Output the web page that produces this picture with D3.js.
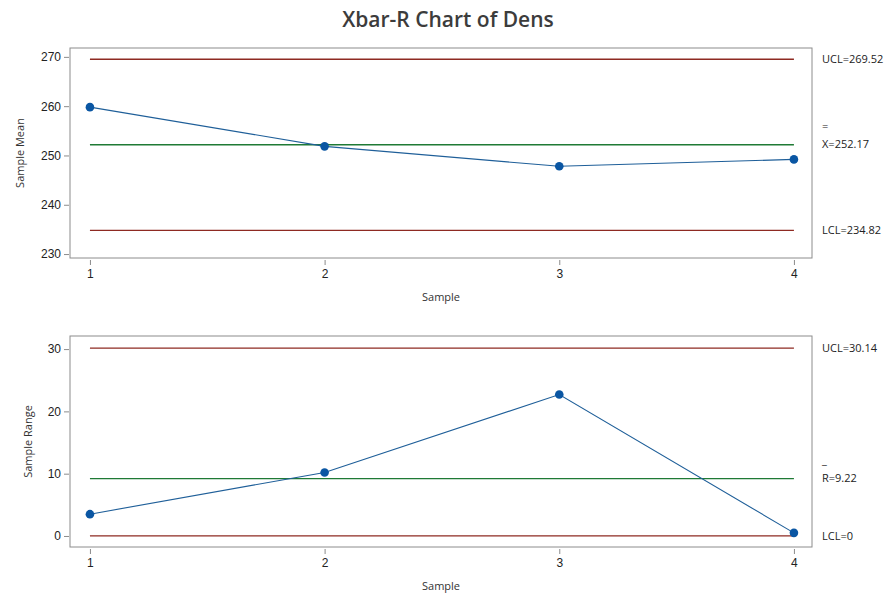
<!DOCTYPE html>
<html>
<head>
<meta charset="utf-8">
<style>
  body { margin: 0; background: #fff; }
  svg { display: block; font-family: "Open Sans", "Noto Sans", sans-serif; }
</style>
<script src="https://d3js.org/d3.v7.min.js"></script>
</head>
<body>
<svg width="894" height="597"></svg>
<script>
var samples = [1, 2, 3, 4];
var sampleMeans = [259.8, 251.85, 247.8, 249.2];
var sampleRanges = [3.5, 10.2, 22.7, 0.5];
var meanLimits = { ucl: 269.52, center: 252.17, lcl: 234.82 };
var rangeLimits = { ucl: 30.14, center: 9.22, lcl: 0 };
var meanTicks = [230, 240, 250, 260, 270];
var rangeTicks = [0, 10, 20, 30];

var svg = d3.select("svg");

svg.append("text")
    .attr("x", 448).attr("y", 27)
    .attr("text-anchor", "middle")
    .attr("font-size", 21).attr("font-weight", 600)
    .attr("fill", "#3c3c3c")
    .text("Xbar-R Chart of Dens");

function panel(opts) {
  var left = 70, right = 812, top = opts.top, bottom = opts.bottom;
  var g = svg.append("g");

  var x = d3.scaleLinear().domain([0.915, 4.077]).range([left, right]);
  var y = d3.scaleLinear().domain(opts.domain).range([bottom, top]);

  g.append("rect")
      .attr("x", left).attr("y", top)
      .attr("width", right - left).attr("height", bottom - top)
      .attr("fill", "none").attr("stroke", "#8c8c8c");

  var yAxis = g.append("g")
      .attr("transform", "translate(" + (left - 1) + ",0)")
      .call(d3.axisLeft(y).tickValues(opts.ticks).tickSize(5).tickPadding(3));
  yAxis.select(".domain").remove();
  yAxis.selectAll("line").attr("stroke", "#8c8c8c");
  yAxis.selectAll("text").attr("font-size", 12).attr("fill", "#222").attr("font-family", null);

  var xAxis = g.append("g")
      .attr("transform", "translate(0," + (bottom + 2) + ")")
      .call(d3.axisBottom(x).tickValues(samples).tickSize(5).tickPadding(4).tickFormat(d3.format("d")));
  xAxis.select(".domain").remove();
  xAxis.selectAll("line").attr("stroke", "#8c8c8c");
  xAxis.selectAll("text").attr("font-size", 12).attr("fill", "#222").attr("font-family", null);

  g.append("text")
      .attr("x", (left + right) / 2).attr("y", bottom + 43)
      .attr("text-anchor", "middle").attr("font-size", 11).attr("fill", "#333")
      .text("Sample");

  g.append("text")
      .attr("transform", "translate(" + opts.labelX + "," + ((top + bottom) / 2) + ") rotate(-90)")
      .attr("text-anchor", "middle").attr("font-size", 11).attr("fill", "#333")
      .text(opts.yLabel);

  var lims = [
    { v: opts.limits.ucl, c: "#8e2a22" },
    { v: opts.limits.center, c: "#1f7a35" },
    { v: opts.limits.lcl, c: "#8e2a22" }
  ];
  g.selectAll(".lim").data(lims).enter().append("line")
      .attr("x1", x(1)).attr("x2", x(4))
      .attr("y1", function(d) { return y(d.v); })
      .attr("y2", function(d) { return y(d.v); })
      .attr("stroke", function(d) { return d.c; })
      .attr("stroke-width", 1.3);

  var pts = samples.map(function(s, i) { return [s, opts.values[i]]; });
  g.append("path")
      .datum(pts)
      .attr("fill", "none").attr("stroke", "#1f5f99").attr("stroke-width", 1.1)
      .attr("d", d3.line().x(function(d) { return x(d[0]); }).y(function(d) { return y(d[1]); }));
  g.selectAll(".pt").data(pts).enter().append("circle")
      .attr("cx", function(d) { return x(d[0]); })
      .attr("cy", function(d) { return y(d[1]); })
      .attr("r", 4.3).attr("fill", "#0a56a3");

  var lx = 822;
  g.append("text").attr("x", lx).attr("y", y(opts.limits.ucl) + 4)
      .attr("font-size", 11).attr("fill", "#222").text("UCL=" + opts.limits.ucl);
  g.append("text").attr("x", lx).attr("y", y(opts.limits.lcl) + 4)
      .attr("font-size", 11).attr("fill", "#222").text("LCL=" + opts.limits.lcl);
  g.append("text").attr("x", lx).attr("y", y(opts.limits.center) - 15)
      .attr("font-size", 11).attr("fill", "#222").text(opts.bar);
  g.append("text").attr("x", lx).attr("y", y(opts.limits.center) + 3)
      .attr("font-size", 11).attr("fill", "#222").text(opts.centerName + "=" + opts.limits.center);
}

panel({
  top: 48, bottom: 258, domain: [229.2, 271.8], ticks: meanTicks,
  values: sampleMeans, limits: meanLimits, yLabel: "Sample Mean", labelX: 24,
  bar: "=", centerName: "X"
});

panel({
  top: 336, bottom: 547, domain: [-1.77, 32.1], ticks: rangeTicks,
  values: sampleRanges, limits: rangeLimits, yLabel: "Sample Range", labelX: 32,
  bar: "_", centerName: "R"
});
</script>
</body>
</html>
